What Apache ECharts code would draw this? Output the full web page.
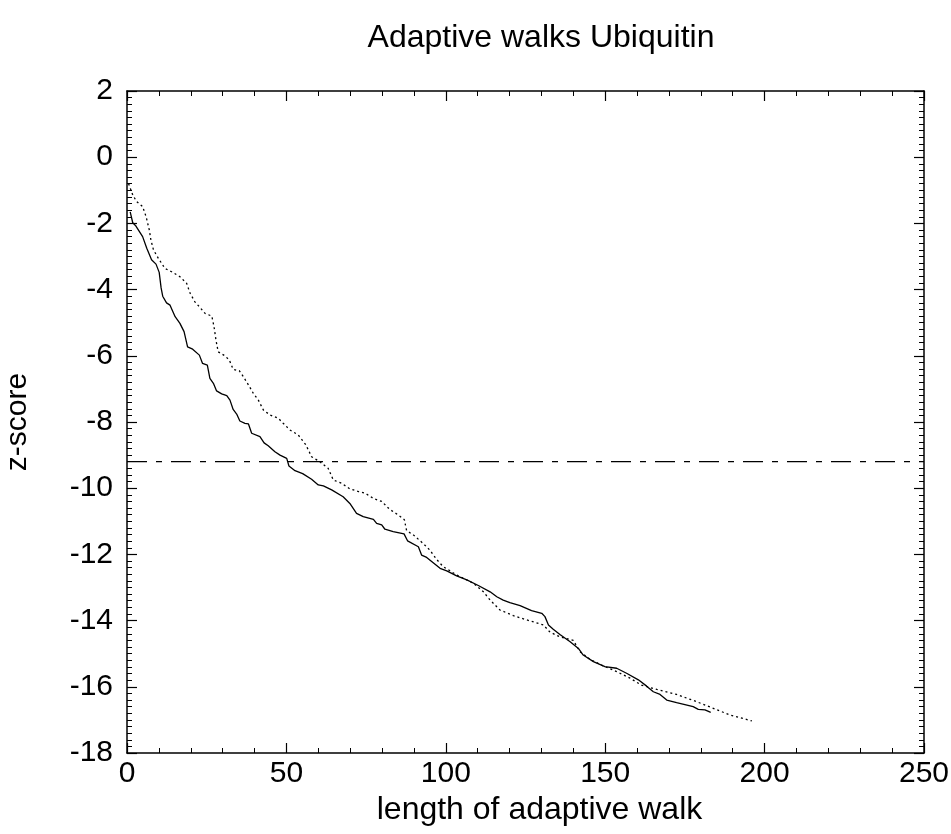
<!DOCTYPE html>
<html>
<head>
<meta charset="utf-8">
<script src="https://cdn.jsdelivr.net/npm/echarts@6/dist/echarts.min.js"></script>
<style>html,body{margin:0;padding:0;background:#fff;}#chart{width:951px;height:834px;}</style>
</head>
<body>
<div id="chart"></div>
<script>
const titleText = "Adaptive walks Ubiquitin";
const xName = "length of adaptive walk";
const yName = "z-score";
const thresholdZ = -9.2;

const solidX = [1.0,1.8,2.8,4.9,6.2,7.7,9.1,10.1,10.7,11.2,12.4,13.5,15.1,16.6,17.9,19.0,20.6,22.7,23.7,25.2,26.0,27.1,28.1,29.7,31.3,32.3,33.3,34.4,35.4,37.0,38.1,39.1,41.7,43.0,44.3,46.4,48.0,50.1,50.8,52.7,55.1,57.9,60.0,61.6,64.2,67.8,69.9,72.0,74.1,77.3,78.3,79.9,80.9,83.5,86.9,88.0,91.4,92.4,94.0,98.2,100.3,103.4,106.6,110.2,113.9,116.0,118.0,120.1,123.3,126.9,130.1,131.1,132.2,133.7,135.8,139.0,141.6,143.1,146.3,149.9,153.6,156.7,160.4,163.0,165.1,167.2,169.3,172.4,177.6,179.2,181.3,183.1];
const solidY = [-1.65,-1.98,-2.08,-2.4,-2.75,-3.1,-3.23,-3.48,-3.95,-4.2,-4.4,-4.47,-4.82,-5.02,-5.27,-5.73,-5.8,-5.98,-6.23,-6.28,-6.68,-6.83,-7.06,-7.15,-7.2,-7.34,-7.62,-7.76,-7.97,-8.04,-8.06,-8.34,-8.44,-8.63,-8.72,-8.9,-9.0,-9.1,-9.33,-9.47,-9.56,-9.73,-9.9,-9.93,-10.05,-10.26,-10.46,-10.76,-10.86,-10.94,-11.06,-11.11,-11.24,-11.31,-11.38,-11.59,-11.77,-12.02,-12.09,-12.42,-12.5,-12.65,-12.77,-12.94,-13.13,-13.28,-13.38,-13.46,-13.55,-13.7,-13.78,-13.88,-14.13,-14.26,-14.42,-14.64,-14.84,-15.04,-15.24,-15.39,-15.44,-15.59,-15.79,-15.98,-16.15,-16.23,-16.4,-16.48,-16.6,-16.68,-16.7,-16.77];

const dottedX = [0.5,1.8,3.0,4.9,6.0,7.0,7.5,8.3,9.8,11.9,14.0,16.6,18.7,19.8,21.3,23.0,24.5,26.6,27.3,27.9,28.6,30.7,32.1,33.3,35.2,36.5,38.1,39.6,41.2,42.8,44.9,47.5,49.0,51.1,53.7,56.1,57.9,60.5,63.1,64.7,67.3,69.9,72.6,74.7,77.3,79.9,82.3,85.1,87.0,87.7,89.8,92.9,95.0,97.1,99.2,103.4,108.6,111.8,113.9,117.0,121.2,125.4,130.6,132.7,135.8,140.0,142.1,145.2,149.4,153.6,157.8,161.4,166.2,172.4,178.7,183.9,189.1,196.0];
const dottedY = [-0.8,-1.14,-1.34,-1.49,-1.8,-2.2,-2.5,-2.8,-3.05,-3.36,-3.46,-3.61,-3.81,-4.11,-4.37,-4.55,-4.72,-4.8,-5.12,-5.52,-5.88,-6.0,-6.13,-6.41,-6.45,-6.63,-6.88,-7.13,-7.34,-7.64,-7.79,-7.89,-8.04,-8.24,-8.39,-8.69,-9.05,-9.2,-9.4,-9.75,-9.85,-10.02,-10.1,-10.15,-10.31,-10.4,-10.63,-10.81,-10.95,-11.28,-11.41,-11.67,-11.87,-12.15,-12.37,-12.62,-12.87,-13.13,-13.38,-13.68,-13.85,-13.98,-14.13,-14.35,-14.49,-14.6,-14.94,-15.17,-15.37,-15.54,-15.74,-15.95,-16.08,-16.23,-16.45,-16.65,-16.85,-17.03];

const xMin = 0, xMax = 250, xStep = 50;
const yMin = -18, yMax = 2, yStep = 2;

const zip = (xs, ys) => xs.map((x, i) => [x, ys[i]]);
const FONT = "Liberation Sans, Arial, Helvetica, sans-serif";
const black = "#000";
const TICK_FS = 30;

const chart = echarts.init(document.getElementById('chart'), null, {renderer: 'canvas'});

function axisCommon(showLabel) {
  return {
    axisLine: {show: true, onZero: false, lineStyle: {color: black, width: 1.5}},
    axisTick: {show: true, inside: true, length: 10, lineStyle: {color: black, width: 1.2}},
    minorTick: {show: true, length: 5, lineStyle: {color: black, width: 1}},
    splitLine: {show: false},
    axisLabel: {show: showLabel, color: black, fontFamily: FONT, fontSize: TICK_FS},
  };
}

const option = {
  backgroundColor: '#fff',
  animation: false,
  title: {
    text: titleText, left: 536, top: 17, textAlign: 'center',
    textStyle: {color: black, fontFamily: FONT, fontSize: 32, fontWeight: 'normal'}
  },
  grid: {left: 127, right: 27, top: 91, bottom: 81, containLabel: false, outerBoundsMode: 'none'},
  xAxis: [
    Object.assign(axisCommon(true), {
      type: 'value', min: xMin, max: xMax, interval: xStep, position: 'bottom',
      name: xName, nameLocation: 'middle', nameGap: 25,
      nameTextStyle: {color: black, fontFamily: FONT, fontSize: 32, padding: [0, 0, 0, 28]},
      axisLabel: {show: true, color: black, fontFamily: FONT, fontSize: TICK_FS, margin: 6},
      minorTick: {show: true, splitNumber: 5, length: 5, lineStyle: {color: black, width: 1}},
    }),
    Object.assign(axisCommon(false), {
      type: 'value', min: xMin, max: xMax, interval: xStep, position: 'top',
      minorTick: {show: true, splitNumber: 5, length: 5, lineStyle: {color: black, width: 1}},
    })
  ],
  yAxis: [
    Object.assign(axisCommon(true), {
      type: 'value', min: yMin, max: yMax, interval: yStep, position: 'left',
      name: yName, nameLocation: 'middle', nameGap: 94, nameRotate: 90,
      nameTextStyle: {color: black, fontFamily: FONT, fontSize: 30},
      axisLabel: {show: true, color: black, fontFamily: FONT, fontSize: TICK_FS, margin: 14},
      minorTick: {show: true, splitNumber: 10, length: 5, lineStyle: {color: black, width: 1}},
    }),
    Object.assign(axisCommon(false), {
      type: 'value', min: yMin, max: yMax, interval: yStep, position: 'right',
      minorTick: {show: true, splitNumber: 10, length: 5, lineStyle: {color: black, width: 1}},
    })
  ],
  series: [
    {
      name: 'threshold', type: 'line', xAxisIndex: 0, yAxisIndex: 0,
      data: [[xMin, thresholdZ], [xMax, thresholdZ]],
      symbol: 'none', silent: true,
      lineStyle: {color: black, width: 1.2, type: [20, 9, 6, 9]}
    },
    {
      name: 'solid', type: 'line', xAxisIndex: 0, yAxisIndex: 0,
      data: zip(solidX, solidY), symbol: 'none', smooth: false,
      lineStyle: {color: black, width: 1.3, type: 'solid'}
    },
    {
      name: 'dotted', type: 'line', xAxisIndex: 0, yAxisIndex: 0,
      data: zip(dottedX, dottedY), symbol: 'none', smooth: false,
      lineStyle: {color: black, width: 1.3, type: [2, 3]}
    }
  ]
};
chart.setOption(option);
</script>
</body>
</html>
